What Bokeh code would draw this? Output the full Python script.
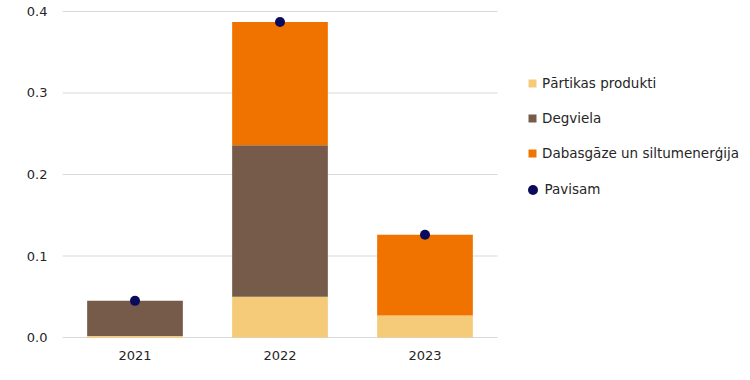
from bokeh.plotting import figure
from bokeh.models import ColumnDataSource, Range1d, Legend, LegendItem, FixedTicker, NumeralTickFormatter
from bokeh.embed import file_html
from bokeh.resources import INLINE

years = ["2021", "2022", "2023"]
food = [0.002, 0.050, 0.027]
fuel = [0.043, 0.186, 0.0]
gas = [0.0, 0.151, 0.099]
total = [0.045, 0.387, 0.126]
yticks = [0.0, 0.1, 0.2, 0.3, 0.4]

labels = ["Pārtikas produkti", "Degviela", "Dabasgāze un siltumenerģija", "Pavisam"]
colors = ["#F5CA79", "#765A4A", "#F07300", "#0B0B5C"]
FONT = "DejaVu Sans"

n = len(years)
xpos = [i + 0.5 for i in range(n)]
src = ColumnDataSource(dict(x=xpos, food=food, fuel=fuel, gas=gas, total=total))

W, H = 742, 364
LEFT, TOP, BOTTOM = 62, 10, 26
plot_px = 435  # width of the category area
frame_w = W - LEFT
x_end = n * frame_w / plot_px

p = figure(x_range=Range1d(0, x_end), y_range=Range1d(-0.0012, 0.4012),
           width=W, height=H,
           min_border_left=LEFT, min_border_top=TOP, min_border_right=0, min_border_bottom=BOTTOM,
           output_backend="svg", toolbar_location=None)

# horizontal gridlines only across the category area
p.segment(x0=0, x1=n, y0=yticks, y1=yticks, line_color="#D9D9D9", line_width=1.2)

bars = p.vbar_stack(["food", "fuel", "gas"], x="x", width=0.66, source=src,
                    color=colors[:3], line_color=None)
dots = p.scatter(x="x", y="total", source=src, size=10, color=colors[3], line_color=None)

p.outline_line_color = None
p.xgrid.grid_line_color = None
p.ygrid.grid_line_color = None

p.yaxis.ticker = FixedTicker(ticks=yticks)
p.yaxis.formatter = NumeralTickFormatter(format="0.0")
p.xaxis.ticker = FixedTicker(ticks=xpos)
p.xaxis.major_label_overrides = {x: y for x, y in zip(xpos, years)}
for ax in (p.xaxis[0], p.yaxis[0]):
    ax.axis_line_color = None
    ax.major_tick_line_color = None
    ax.minor_tick_line_color = None
    ax.major_tick_out = 0
    ax.major_tick_in = 0
    ax.major_label_text_font = FONT
    ax.major_label_text_font_size = "13px"
    ax.major_label_text_color = "#262626"
p.yaxis.major_label_standoff = 15
p.xaxis.major_label_standoff = 12

common = dict(orientation="vertical", padding=0, margin=0,
              label_text_font=FONT, label_text_font_size="13.5px", label_text_color="#262626",
              background_fill_alpha=0, border_line_color=None)

bar_items = [LegendItem(label=labels[i], renderers=[bars[i]]) for i in range(3)]
legend1 = Legend(items=bar_items, location=(465, 175),
                 glyph_width=10, glyph_height=10, label_height=20, spacing=15,
                 label_standoff=5, **common)
p.add_layout(legend1, "center")

legend2 = Legend(items=[LegendItem(label=labels[3], renderers=[dots])], location=(457.5, 136.5),
                 glyph_width=25, glyph_height=25, label_height=20, spacing=0,
                 label_standoff=-2, **common)
p.add_layout(legend2, "center")

open("out.html", "w").write(file_html(p, INLINE))
